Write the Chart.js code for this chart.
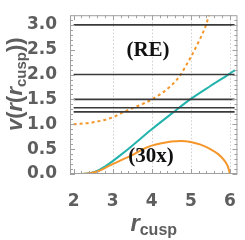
<!DOCTYPE html>
<html lang="en">
<head>
  <meta charset="UTF-8" />
  <title>v(r(r_cusp))</title>
  <script src="https://cdn.jsdelivr.net/npm/chart.js"></script>
  <style>
    body { margin: 0; padding: 0; background: #fff; }
    #wrap { width: 245px; height: 240px; }
  </style>
</head>
<body>
  <div id="wrap"><canvas id="grafico" width="245" height="240"></canvas></div>

  <script>
    // horizontal reference levels
    const levels = [3.0, 2.0, 1.5, 1.333, 1.25];
    const levelSpan = [2, 6.12];

    // orange solid (30x)
    const rSolid = [2.0, 2.2, 2.4, 2.6, 2.8, 3.0, 3.25, 3.5, 3.75, 4.0, 4.25, 4.5, 4.75, 5.0, 5.25, 5.5, 5.7, 5.85, 5.95, 6.0];
    const vSolid = [0, 0, 0.015, 0.05, 0.12, 0.2, 0.29, 0.38, 0.49, 0.57, 0.62, 0.655, 0.665, 0.645, 0.59, 0.5, 0.4, 0.28, 0.15, 0];

    // teal
    const rTeal = [2.0, 2.23, 2.4, 2.6, 2.8, 3.0, 3.2, 3.5, 4.0, 4.5, 5.0, 5.5, 6.0, 6.13];
    const vTeal = [0, 0, 0.015, 0.06, 0.15, 0.26, 0.38, 0.57, 0.9, 1.21, 1.51, 1.77, 2.02, 2.09];

    // orange dashed (RE)
    const rDash = [2.0, 2.5, 3.0, 3.29, 3.5, 4.0, 4.5, 4.74, 4.87, 5.0, 5.2, 5.39, 5.5];
    const vDash = [1.0, 1.04, 1.14, 1.25, 1.32, 1.5, 1.78, 2.0, 2.17, 2.35, 2.66, 3.0, 3.3];

    const xTicks = [2, 3, 4, 5, 6];
    const yTicks = [0, 0.5, 1.0, 1.5, 2.0, 2.5, 3.0];
    const xGrid = [3, 4, 5, 6];

    const gris = '#5e5e5e';
    const naranja = '#f5962a';
    const turquesa = '#22b3ad';
    const fuente = '"Liberation Sans", Arial, sans-serif';

    const puntos = (xs, ys) => xs.map((x, i) => ({ x: x, y: ys[i] }));

    const datasets = levels.map(v => ({
      data: levelSpan.map(x => ({ x: x, y: v })),
      borderColor: '#3a3a3a',
      borderWidth: 1.6
    }));
    datasets.push({
      data: puntos(rDash, vDash),
      borderColor: naranja,
      borderWidth: 2,
      borderDash: [3, 3],
      cubicInterpolationMode: 'monotone'
    });
    datasets.push({
      data: puntos(rSolid, vSolid),
      borderColor: naranja,
      borderWidth: 2,
      cubicInterpolationMode: 'monotone'
    });
    datasets.push({
      data: puntos(rTeal, vTeal),
      borderColor: turquesa,
      borderWidth: 2,
      cubicInterpolationMode: 'monotone'
    });

    const marco = {
      id: 'marco',
      beforeDatasetsDraw(chart) {
        const { ctx, chartArea: a, scales } = chart;
        ctx.save();
        ctx.strokeStyle = '#cfcfcf';
        ctx.lineWidth = 1;
        ctx.setLineDash([1.5, 2]);
        xGrid.forEach(v => {
          const px = Math.round(scales.x.getPixelForValue(v)) + 0.5;
          ctx.beginPath();
          ctx.moveTo(px, a.top);
          ctx.lineTo(px, a.bottom);
          ctx.stroke();
        });
        ctx.restore();
      },
      afterDatasetsDraw(chart) {
        const { ctx, chartArea: a, scales } = chart;
        ctx.save();
        ctx.strokeStyle = '#a0a0a0';
        ctx.lineWidth = 1;
        ctx.strokeRect(a.left + 0.5, a.top + 0.5, a.right - a.left - 1, a.bottom - a.top - 1);
        ctx.beginPath();
        for (let i = 0; i <= 20; i++) {
          const v = 2 + i * 0.2;
          const px = Math.round(scales.x.getPixelForValue(v)) + 0.5;
          const len = i % 5 === 0 ? 5 : 3;
          ctx.moveTo(px, a.bottom); ctx.lineTo(px, a.bottom - len);
          ctx.moveTo(px, a.top); ctx.lineTo(px, a.top + len);
        }
        for (let i = 0; i <= 31; i++) {
          const v = i * 0.1;
          const py = Math.round(scales.y.getPixelForValue(v)) + 0.5;
          const len = i % 5 === 0 ? 5 : 3;
          ctx.moveTo(a.left, py); ctx.lineTo(a.left + len, py);
          ctx.moveTo(a.right, py); ctx.lineTo(a.right - len, py);
        }
        ctx.stroke();

        // curve labels
        ctx.fillStyle = '#111';
        ctx.font = 'bold 21px "Liberation Serif", serif';
        ctx.textAlign = 'center';
        ctx.textBaseline = 'middle';
        ctx.fillText('(RE)', 148, 51);
        ctx.fillText('(30x)', 151, 157);

        // x title
        ctx.fillStyle = gris;
        ctx.textAlign = 'left';
        ctx.textBaseline = 'alphabetic';
        ctx.font = 'italic bold 24px ' + fuente;
        const wR = ctx.measureText('r').width;
        ctx.font = 'bold 16px ' + fuente;
        const wC = ctx.measureText('cusp').width;
        let x0 = (a.left + a.right) / 2 - (wR + wC) / 2;
        ctx.font = 'italic bold 24px ' + fuente;
        ctx.fillText('r', x0, 231);
        ctx.font = 'bold 16px ' + fuente;
        ctx.fillText('cusp', x0 + wR, 235);

        // y title
        ctx.translate(22, 131);
        ctx.rotate(-Math.PI / 2);
        const piezas = [
          ['v', 'italic bold 22px', 0],
          ['(', 'bold 22px', 0],
          ['r', 'italic bold 22px', 0],
          ['(', 'bold 22px', 0],
          ['r', 'italic bold 22px', 0],
          ['cusp', 'bold 15px', 4],
          ['))', 'bold 22px', 0]
        ];
        let cx = 0;
        piezas.forEach(([t, f, dy]) => {
          ctx.font = f + ' ' + fuente;
          ctx.fillText(t, cx, dy);
          cx += ctx.measureText(t).width;
        });
        ctx.restore();
      }
    };

    new Chart(document.getElementById('grafico').getContext('2d'), {
      type: 'line',
      data: { datasets: datasets },
      options: {
        responsive: false,
        animation: false,
        events: [],
        layout: { padding: { top: 4, right: 4, left: 0, bottom: 0 } },
        elements: { point: { radius: 0 } },
        plugins: { legend: { display: false }, tooltip: { enabled: false } },
        scales: {
          x: {
            type: 'linear',
            min: 1.907,
            max: 6.193,
            afterBuildTicks: s => { s.ticks = xTicks.map(v => ({ value: v })); },
            afterFit: s => { s.height = 66; },
            grid: { display: false },
            border: { display: false },
            ticks: {
              color: gris,
              padding: 9,
              font: { family: 'DejaVu Sans', size: 17, weight: 'bold' },
              maxRotation: 0,
              callback: v => String(v)
            }
          },
          y: {
            min: 0,
            max: 3.194,
            afterBuildTicks: s => { s.ticks = yTicks.map(v => ({ value: v })); },
            afterFit: s => { s.width = 70; },
            grid: { display: false },
            border: { display: false },
            ticks: {
              color: gris,
              padding: 5,
              font: { family: 'DejaVu Sans', size: 17, weight: 'bold' },
              callback: v => v.toFixed(1)
            }
          }
        }
      },
      plugins: [marco]
    });
  </script>
</body>
</html>
